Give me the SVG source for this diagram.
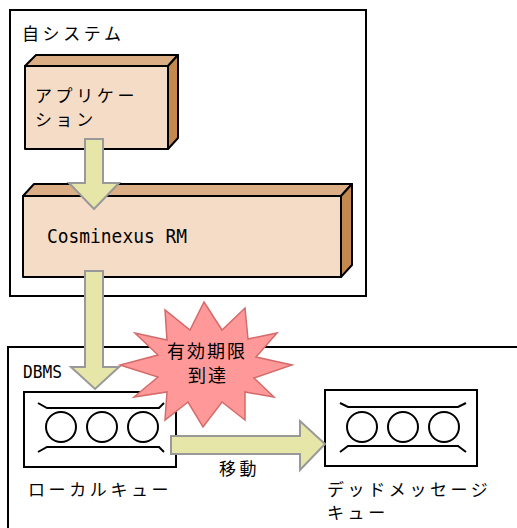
<svg xmlns="http://www.w3.org/2000/svg" width="517" height="528" viewBox="0 0 517 528">
<style>
.frame{fill:#fff;stroke:#000;stroke-width:2}
.face{fill:#f5dcc6;stroke:#000;stroke-width:2;stroke-linejoin:round}
.top{fill:#dcae86;stroke:#000;stroke-width:2;stroke-linejoin:round}
.side{fill:#c4894f;stroke:#000;stroke-width:2;stroke-linejoin:round}
.q{fill:#fff;stroke:#000;stroke-width:2}
.ql{fill:none;stroke:#000;stroke-width:2}
.arrow{fill:#e6e6a8;stroke:#999;stroke-width:2;stroke-linejoin:miter}
.burst{fill:#ff9999;stroke:#d46a6a;stroke-width:1.5}
.jp{font-family:"Noto Sans CJK JP","Noto Sans",sans-serif;font-size:17px;letter-spacing:3.6px;fill:#000}
.jb{font-family:"Noto Sans CJK JP","Noto Sans",sans-serif;font-size:18px;letter-spacing:2px;fill:#000}
.mono{font-family:"DejaVu Sans Mono","Liberation Mono",monospace;fill:#000}
</style>
<g id="system">
<rect class="frame" x="10" y="10" width="356" height="286"/>
<text class="jp" x="22" y="40">自システム</text>
</g>
<g id="application">
<rect class="face" x="25" y="66" width="143" height="83"/>
<polygon class="top" points="25,66 36,55 178,55 168,66"/>
<polygon class="side" points="168,66 178,55 178,138 168,149"/>
<text class="jp" x="35" y="102">アプリケー</text>
<text class="jp" x="35" y="126">ション</text>
</g>
<g id="cosminexus-rm">
<rect class="face" x="23" y="196" width="318" height="81"/>
<polygon class="top" points="23,196 34,184 352,184 341,196"/>
<polygon class="side" points="341,196 352,184 352,265 341,277"/>
<text class="mono" x="47" y="243" font-size="20" textLength="140" lengthAdjust="spacingAndGlyphs">Cosminexus RM</text>
</g>
<g id="dbms">
<rect class="frame" x="8" y="347" width="530" height="220"/>
<text class="mono" x="23" y="378" font-size="18" textLength="39" lengthAdjust="spacingAndGlyphs">DBMS</text>
</g>
<g id="local-queue">
<rect class="q" x="24" y="392" width="152" height="75"/>
<polyline class="ql" points="38,403 47,408 159,408 164,403"/>
<polyline class="ql" points="38,452 47,447 159,447 164,452"/>
<circle class="ql" cx="61" cy="427" r="15"/>
<circle class="ql" cx="102" cy="427" r="15"/>
<circle class="ql" cx="143" cy="427" r="15"/>
<text class="jp" x="28" y="496">ローカルキュー</text>
</g>
<g id="dead-message-queue">
<rect class="q" x="325" y="390" width="152" height="76"/>
<polyline class="ql" points="340,403 348,407 458,407 466,403"/>
<polyline class="ql" points="340,452 348,446 458,446 466,452"/>
<circle class="ql" cx="362" cy="427" r="15"/>
<circle class="ql" cx="403" cy="427" r="15"/>
<circle class="ql" cx="444" cy="427" r="15"/>
<text class="jp" x="327" y="496">デッドメッセージ</text>
<text class="jp" x="327" y="519">キュー</text>
</g>
<g id="connectors">
<polygon class="arrow" points="85,139 103,139 103,183 119,183 94,209 69,183 85,183"/>
<polygon class="arrow" points="85,271 103,271 103,367 119,367 95,389 71,367 85,367"/>
<polygon class="arrow" points="171,436 300,436 300,421 325,444 300,470 300,454 171,454"/>
<text class="jp" x="219" y="475">移動</text>
</g>
<g id="expiry">
<polygon class="burst" points="204,302 222,330 245,308 248,339 277,333 256,357 292,365 254,378 274,397 245,392 245,420 222,402 203,427 188,402 165,420 167,392 134,397 158,377 120,365 158,355 135,333 167,340 165,310 190,330"/>
<text class="jb" x="207" y="358" text-anchor="middle">有効期限</text>
<text class="jb" x="208" y="382" text-anchor="middle">到達</text>
</g>
</svg>
